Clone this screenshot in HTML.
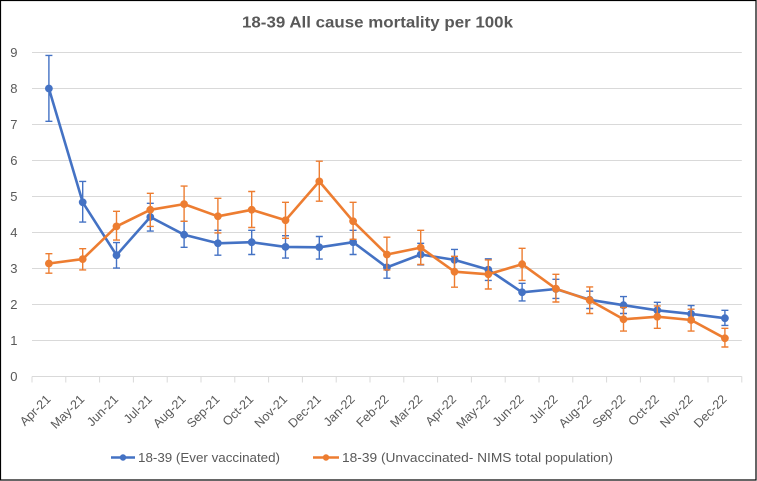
<!DOCTYPE html>
<html>
<head>
<meta charset="utf-8">
<style>
  html, body { margin: 0; padding: 0; background: #fff; }
  svg { display: block; }
  text { font-family: "Liberation Sans", Arial, sans-serif; fill: #595959; }
</style>
</head>
<body>
<svg width="757" height="481" viewBox="0 0 757 481" xmlns="http://www.w3.org/2000/svg">
  <rect x="0" y="0" width="757" height="481" fill="#fff"/>
  <rect x="0.5" y="0.5" width="755.5" height="479.5" fill="none" stroke="#000" stroke-width="1.2"/>

  <!-- Title -->
  <text x="242" y="27.5" font-size="16" font-weight="bold" textLength="271" lengthAdjust="spacingAndGlyphs">18-39 All cause mortality per 100k</text>

  <!-- Gridlines -->
  <g stroke="#d9d9d9" stroke-width="1">
    <line x1="32" y1="52.5" x2="741.8" y2="52.5"/>
    <line x1="32" y1="88.5" x2="741.8" y2="88.5"/>
    <line x1="32" y1="124.5" x2="741.8" y2="124.5"/>
    <line x1="32" y1="160.5" x2="741.8" y2="160.5"/>
    <line x1="32" y1="196.5" x2="741.8" y2="196.5"/>
    <line x1="32" y1="232.5" x2="741.8" y2="232.5"/>
    <line x1="32" y1="268.5" x2="741.8" y2="268.5"/>
    <line x1="32" y1="304.5" x2="741.8" y2="304.5"/>
    <line x1="32" y1="340.5" x2="741.8" y2="340.5"/>
    <line x1="32" y1="376.5" x2="741.8" y2="376.5"/>
  </g>
  <!-- Ticks -->
  <path stroke="#d9d9d9" stroke-width="1" fill="none" d="M32,376.5v6M65.8,376.5v6M99.6,376.5v6M133.4,376.5v6M167.2,376.5v6M201,376.5v6M234.8,376.5v6M268.6,376.5v6M302.4,376.5v6M336.2,376.5v6M370,376.5v6M403.8,376.5v6M437.6,376.5v6M471.4,376.5v6M505.2,376.5v6M539,376.5v6M572.8,376.5v6M606.6,376.5v6M640.4,376.5v6M674.2,376.5v6M708,376.5v6M741.8,376.5v6"/>

  <!-- Y labels -->
  <g font-size="13" text-anchor="end">
    <text x="17.5" y="57">9</text>
    <text x="17.5" y="93">8</text>
    <text x="17.5" y="129">7</text>
    <text x="17.5" y="165">6</text>
    <text x="17.5" y="201">5</text>
    <text x="17.5" y="237">4</text>
    <text x="17.5" y="273">3</text>
    <text x="17.5" y="309">2</text>
    <text x="17.5" y="345">1</text>
    <text x="17.5" y="381">0</text>
  </g>

  <!-- X labels -->
  <g font-size="12.5" text-anchor="end">
    <text transform="translate(51.4,400) rotate(-45)">Apr-21</text>
    <text transform="translate(85.2,400) rotate(-45)">May-21</text>
    <text transform="translate(119,400) rotate(-45)">Jun-21</text>
    <text transform="translate(152.8,400) rotate(-45)">Jul-21</text>
    <text transform="translate(186.6,400) rotate(-45)">Aug-21</text>
    <text transform="translate(220.4,400) rotate(-45)">Sep-21</text>
    <text transform="translate(254.2,400) rotate(-45)">Oct-21</text>
    <text transform="translate(288,400) rotate(-45)">Nov-21</text>
    <text transform="translate(321.8,400) rotate(-45)">Dec-21</text>
    <text transform="translate(355.6,400) rotate(-45)">Jan-22</text>
    <text transform="translate(389.4,400) rotate(-45)">Feb-22</text>
    <text transform="translate(423.2,400) rotate(-45)">Mar-22</text>
    <text transform="translate(457,400) rotate(-45)">Apr-22</text>
    <text transform="translate(490.8,400) rotate(-45)">May-22</text>
    <text transform="translate(524.6,400) rotate(-45)">Jun-22</text>
    <text transform="translate(558.4,400) rotate(-45)">Jul-22</text>
    <text transform="translate(592.2,400) rotate(-45)">Aug-22</text>
    <text transform="translate(626,400) rotate(-45)">Sep-22</text>
    <text transform="translate(659.8,400) rotate(-45)">Oct-22</text>
    <text transform="translate(693.6,400) rotate(-45)">Nov-22</text>
    <text transform="translate(727.4,400) rotate(-45)">Dec-22</text>
  </g>

  <!-- Blue series -->
  <path stroke="#4472c4" stroke-width="1.4" fill="none" d="M48.9,55.4V121.3M45.4,55.4h7M45.4,121.3h7M82.7,181.4V222.1M79.2,181.4h7M79.2,222.1h7M116.5,242.6V268.1M113,242.6h7M113,268.1h7M150.3,203.3V231.1M146.8,203.3h7M146.8,231.1h7M184.1,221.3V247.3M180.6,221.3h7M180.6,247.3h7M217.9,230.3V255.2M214.4,230.3h7M214.4,255.2h7M251.7,230.3V254.5M248.2,230.3h7M248.2,254.5h7M285.5,235.7V258.1M282,235.7h7M282,258.1h7M319.3,236.5V259.1M315.8,236.5h7M315.8,259.1h7M353.1,230.3V254.5M349.6,230.3h7M349.6,254.5h7M386.9,254.8V278.2M383.4,254.8h7M383.4,278.2h7M420.7,243.3V264.9M417.2,243.3h7M417.2,264.9h7M454.5,249.4V271M451,249.4h7M451,271h7M488.3,258.8V280.4M484.8,258.8h7M484.8,280.4h7M522.1,283.3V300.9M518.6,283.3h7M518.6,300.9h7M555.9,279.3V298.4M552.4,279.3h7M552.4,298.4h7M589.7,291.2V308.5M586.2,291.2h7M586.2,308.5h7M623.5,296.6V313.5M620,296.6h7M620,313.5h7M657.3,302.3V316.7M653.8,302.3h7M653.8,316.7h7M691.1,305.6V321.8M687.6,305.6h7M687.6,321.8h7M724.9,310.3V325.4M721.4,310.3h7M721.4,325.4h7"/>
  <polyline fill="none" stroke="#4472c4" stroke-width="2.6" stroke-linejoin="round" stroke-linecap="round" points="48.9,88.5 82.7,202.3 116.5,255.2 150.3,217 184.1,234.7 217.9,243.3 251.7,242.2 285.5,246.9 319.3,247.3 353.1,242.2 386.9,267.4 420.7,254.5 454.5,259.9 488.3,269.6 522.1,292.3 555.9,289 589.7,299.8 623.5,305.2 657.3,310.3 691.1,313.9 724.9,318.2"/>
  <g fill="#4472c4">
    <circle cx="48.9" cy="88.5" r="3.9"/><circle cx="82.7" cy="202.3" r="3.9"/><circle cx="116.5" cy="255.2" r="3.9"/><circle cx="150.3" cy="217" r="3.9"/><circle cx="184.1" cy="234.7" r="3.9"/><circle cx="217.9" cy="243.3" r="3.9"/><circle cx="251.7" cy="242.2" r="3.9"/><circle cx="285.5" cy="246.9" r="3.9"/><circle cx="319.3" cy="247.3" r="3.9"/><circle cx="353.1" cy="242.2" r="3.9"/><circle cx="386.9" cy="267.4" r="3.9"/><circle cx="420.7" cy="254.5" r="3.9"/><circle cx="454.5" cy="259.9" r="3.9"/><circle cx="488.3" cy="269.6" r="3.9"/><circle cx="522.1" cy="292.3" r="3.9"/><circle cx="555.9" cy="289" r="3.9"/><circle cx="589.7" cy="299.8" r="3.9"/><circle cx="623.5" cy="305.2" r="3.9"/><circle cx="657.3" cy="310.3" r="3.9"/><circle cx="691.1" cy="313.9" r="3.9"/><circle cx="724.9" cy="318.2" r="3.9"/>
  </g>

  <!-- Orange series -->
  <path stroke="#ed7d31" stroke-width="1.4" fill="none" d="M48.9,253.7V273.2M45.4,253.7h7M45.4,273.2h7M82.7,248.7V269.9M79.2,248.7h7M79.2,269.9h7M116.5,211.3V240.1M113,211.3h7M113,240.1h7M150.3,193.3V226.4M146.8,193.3h7M146.8,226.4h7M184.1,186.1V221.3M180.6,186.1h7M180.6,221.3h7M217.9,198.3V232.9M214.4,198.3h7M214.4,232.9h7M251.7,191.5V227.5M248.2,191.5h7M248.2,227.5h7M285.5,202.3V238.3M282,202.3h7M282,238.3h7M319.3,161.2V201.2M315.8,161.2h7M315.8,201.2h7M353.1,202.3V239.3M349.6,202.3h7M349.6,239.3h7M386.9,237.2V269.9M383.4,237.2h7M383.4,269.9h7M420.7,230.3V264.5M417.2,230.3h7M417.2,264.5h7M454.5,256.3V287.2M451,256.3h7M451,287.2h7M488.3,259.9V289M484.8,259.9h7M484.8,289h7M522.1,248.3V280.4M518.6,248.3h7M518.6,280.4h7M555.9,274.3V302M552.4,274.3h7M552.4,302h7M589.7,286.9V313.5M586.2,286.9h7M586.2,313.5h7M623.5,307.4V331.1M620,307.4h7M620,331.1h7M657.3,305.9V328.3M653.8,305.9h7M653.8,328.3h7M691.1,309.2V331.1M687.6,309.2h7M687.6,331.1h7M724.9,328.3V347M721.4,328.3h7M721.4,347h7"/>
  <polyline fill="none" stroke="#ed7d31" stroke-width="2.6" stroke-linejoin="round" stroke-linecap="round" points="48.9,263.5 82.7,259.1 116.5,226.4 150.3,209.8 184.1,204.1 217.9,216.3 251.7,209.8 285.5,220.3 319.3,181.4 353.1,221.3 386.9,254.5 420.7,247.6 454.5,271.7 488.3,274.3 522.1,264.2 555.9,288.7 589.7,300.2 623.5,319.3 657.3,316.7 691.1,320 724.9,338.3"/>
  <g fill="#ed7d31">
    <circle cx="48.9" cy="263.5" r="3.9"/><circle cx="82.7" cy="259.1" r="3.9"/><circle cx="116.5" cy="226.4" r="3.9"/><circle cx="150.3" cy="209.8" r="3.9"/><circle cx="184.1" cy="204.1" r="3.9"/><circle cx="217.9" cy="216.3" r="3.9"/><circle cx="251.7" cy="209.8" r="3.9"/><circle cx="285.5" cy="220.3" r="3.9"/><circle cx="319.3" cy="181.4" r="3.9"/><circle cx="353.1" cy="221.3" r="3.9"/><circle cx="386.9" cy="254.5" r="3.9"/><circle cx="420.7" cy="247.6" r="3.9"/><circle cx="454.5" cy="271.7" r="3.9"/><circle cx="488.3" cy="274.3" r="3.9"/><circle cx="522.1" cy="264.2" r="3.9"/><circle cx="555.9" cy="288.7" r="3.9"/><circle cx="589.7" cy="300.2" r="3.9"/><circle cx="623.5" cy="319.3" r="3.9"/><circle cx="657.3" cy="316.7" r="3.9"/><circle cx="691.1" cy="320" r="3.9"/><circle cx="724.9" cy="338.3" r="3.9"/>
  </g>

  <!-- Legend -->
  <line x1="111" y1="457.5" x2="135" y2="457.5" stroke="#4472c4" stroke-width="2.6"/>
  <circle cx="123" cy="457.5" r="3.2" fill="#4472c4"/>
  <text x="138" y="462" font-size="13" textLength="142" lengthAdjust="spacingAndGlyphs">18-39 (Ever vaccinated)</text>
  <line x1="313" y1="457.5" x2="339" y2="457.5" stroke="#ed7d31" stroke-width="2.6"/>
  <circle cx="326" cy="457.5" r="3.2" fill="#ed7d31"/>
  <text x="342" y="462" font-size="13" textLength="271" lengthAdjust="spacingAndGlyphs">18-39 (Unvaccinated- NIMS total population)</text>
</svg>
</body>
</html>
